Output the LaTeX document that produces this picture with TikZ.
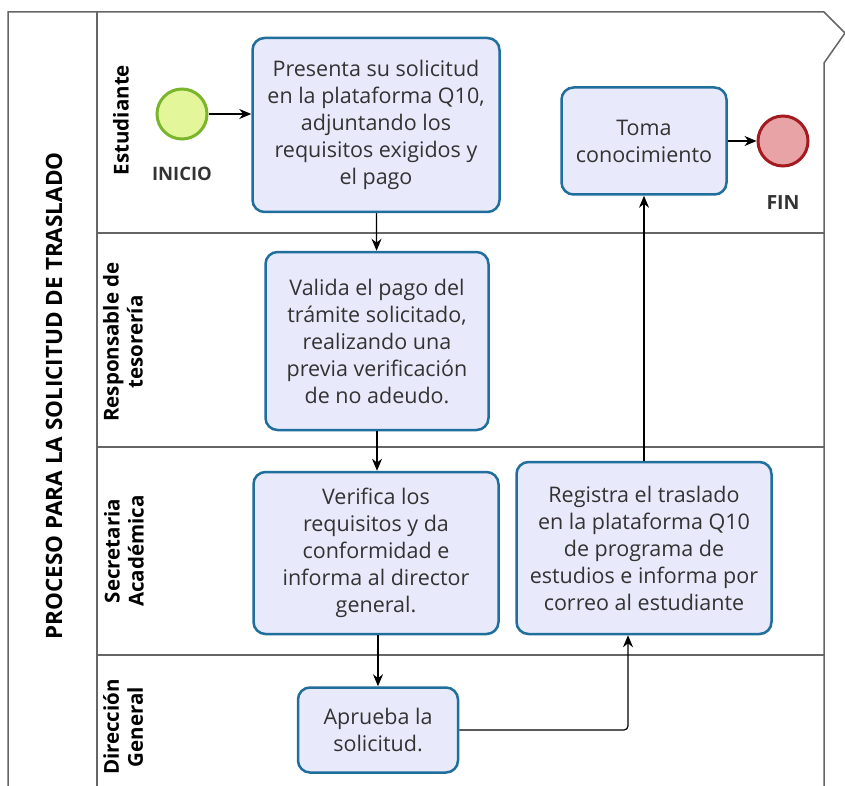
\documentclass[tikz,border=0pt]{standalone}
\usepackage{fontspec}
\setmainfont{Open Sans}
\usetikzlibrary{arrows.meta}
\definecolor{boxfill}{HTML}{E8EAFB}
\definecolor{boxline}{HTML}{1F6E9C}
\definecolor{poolline}{HTML}{666666}
\definecolor{startfill}{HTML}{E3F79A}
\definecolor{startline}{HTML}{7AB52C}
\definecolor{endfill}{HTML}{E8A3A6}
\definecolor{endline}{HTML}{A31B20}
\definecolor{txt}{HTML}{333333}

\begin{document}
\begin{tikzpicture}[x=1pt,y=-1pt,
    task/.style={draw=boxline, fill=boxfill, line width=2.5pt, rounded corners=12pt,
        align=center, text=txt, font=\fontsize{21.5}{27}\selectfont},
    event/.style={circle, minimum size=50pt, line width=3pt},
    lanelabel/.style={rotate=90, align=center, font=\bfseries\fontsize{20.5}{24}\selectfont},
    flow/.style={-{Stealth[length=12pt,width=10pt]}, line width=1.2pt}]
    \useasboundingbox (0,0) rectangle (845,786);

    \draw [poolline, line width=1.5pt] (8,786) -- (8,12) -- (824,12) -- (845,33) -- (824,63) -- (824,786);
    \draw [poolline, line width=1.5pt] (97,12) -- (97,786);
    \foreach \y in {233,447,655}
        \draw [poolline, line width=1.5pt] (97,\y) -- (824,\y);

    \node [lanelabel, font=\bfseries\fontsize{22.5}{26}\selectfont] (pool) at (54,396) {PROCESO PARA LA SOLICITUD DE TRASLADO};
    \node [lanelabel] (estudiante) at (121,120) {Estudiante};
    \node [lanelabel] (tesoreria) at (123,342) {Responsable de\\tesorería};
    \node [lanelabel] (secretaria) at (124,551) {Secretaria\\Académica};
    \node [lanelabel] (direccion) at (123,727) {Dirección\\General};

    \node [event, draw=startline, fill=startfill] (inicio) at (182,114) {};
    \node [font=\bfseries\fontsize{18.5}{20}\selectfont, text=txt] (inicioLbl) at (182,174) {INICIO};
    \node [event, draw=endline, fill=endfill] (fin) at (783,141) {};
    \node [font=\bfseries\fontsize{19.5}{20}\selectfont, text=txt] (finLbl) at (783,203) {FIN};

    \node [task, minimum width=247pt, minimum height=174pt] (presenta) at (376,125)
        {Presenta su solicitud\\en la plataforma Q10,\\adjuntando los\\requisitos exigidos y\\el pago};
    \node [task, minimum width=165pt, minimum height=107pt] (toma) at (644,141)
        {Toma\\conocimiento};
    \node [task, minimum width=223pt, minimum height=178pt] (valida) at (377,341)
        {Valida el pago del\\trámite solicitado,\\realizando una\\previa verificación\\de no adeudo.};
    \node [task, minimum width=245pt, minimum height=162pt] (verifica) at (376,553)
        {Verifica los\\requisitos y da\\conformidad e\\informa al director\\general.};
    \node [task, minimum width=255pt, minimum height=172pt] (registra) at (644,548)
        {Registra el traslado\\en la plataforma Q10\\de programa de\\estudios e informa por\\correo al estudiante};
    \node [task, minimum width=160pt, minimum height=85pt] (aprueba) at (378,730)
        {Aprueba la\\solicitud.};

    \draw [flow] (inicio) -- (presenta.west |- inicio);
    \draw [flow] (presenta) -- (valida);
    \draw [flow] (valida) -- (verifica.north -| valida);
    \draw [flow] (verifica.south -| aprueba) -- (aprueba);
    \draw [flow, rounded corners=4pt] (aprueba.east) -| ([xshift=-16pt]registra.south);
    \draw [flow] (registra) -- (toma);
    \draw [flow] (toma) -- (fin);
\end{tikzpicture}
\end{document}
